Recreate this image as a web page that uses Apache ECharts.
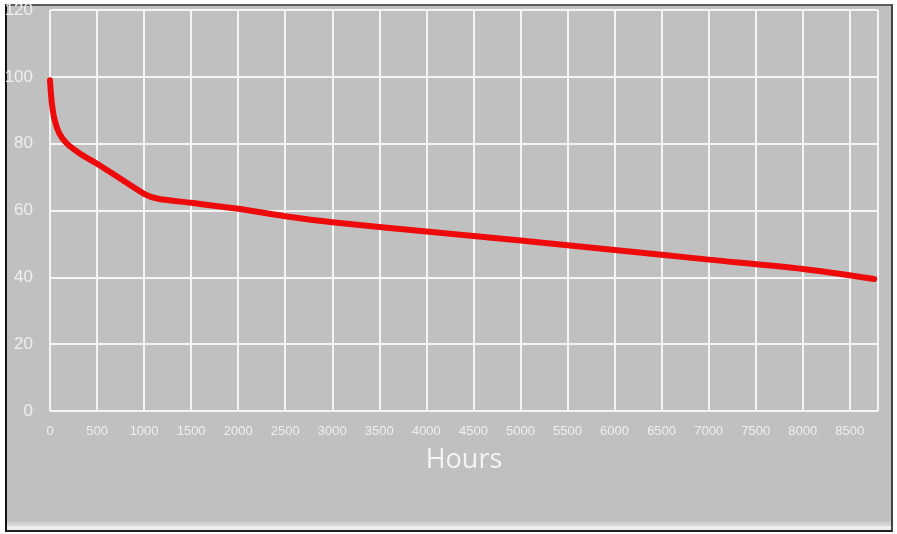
<!DOCTYPE html>
<html>
<head>
<meta charset="utf-8">
<script src="https://cdn.jsdelivr.net/npm/echarts@6/dist/echarts.min.js"></script>
<style>
  html, body { margin: 0; padding: 0; background: #ffffff; }
  #frame {
    position: absolute; left: 5px; top: 4px; width: 884px; height: 524px;
    background: #c0c0c0;
    border-left: 2px solid #111111; border-top: 2px solid #5a5a5a;
    border-right: 2px solid #444444; border-bottom: 2px solid #222222;
  }
  #strip {
    position: absolute; left: 7px; top: 521px; width: 884px; height: 9px;
    background: linear-gradient(#c8c8c8, #d4d4d4 40%, #f2f2f2 70%, #e8e8e8);
  }
  #chart { position: absolute; left: 0; top: 0; width: 897px; height: 534px; }
</style>
</head>
<body>
<div id="frame"></div>
<div id="strip"></div>
<div id="chart"></div>
<script>
const hours = [0, 20, 50, 100, 180, 320, 500, 750, 1000, 1150, 1500, 2000, 2500, 3000, 4000, 5000, 6000, 7000, 8000, 8760];
const values = [99, 92, 87, 83, 80, 77, 74, 69.5, 65, 63.5, 62.3, 60.5, 58.3, 56.5, 53.7, 51, 48.2, 45.3, 42.5, 39.5];
const xName = 'Hours';

const chart = echarts.init(document.getElementById('chart'));
chart.setOption({
  backgroundColor: 'transparent',
  animation: false,
  grid: { left: 50, right: 19, top: 10, bottom: 123 },
  xAxis: {
    type: 'value', min: 0, max: 8800, interval: 500,
    name: xName, nameLocation: 'middle', nameGap: 36,
    nameTextStyle: { color: '#f4f4f4', fontSize: 27, fontFamily: 'Open Sans' },
    axisLine: { show: false }, axisTick: { show: false },
    axisLabel: { color: '#eeeeee', fontSize: 13, fontFamily: 'Liberation Sans', margin: 14, showMaxLabel: false,
      formatter: v => String(v) },
    splitLine: { show: true, lineStyle: { color: '#f4f4f4', width: 2 } }
  },
  yAxis: {
    type: 'value', min: 0, max: 120, interval: 20,
    axisLine: { show: false }, axisTick: { show: false },
    axisLabel: { color: '#eeeeee', fontSize: 17, fontFamily: 'Liberation Sans', margin: 17 },
    splitLine: { show: true, lineStyle: { color: '#f4f4f4', width: 2 } }
  },
  series: [{
    type: 'line',
    data: hours.map((h, i) => [h, values[i]]),
    smooth: 0.3,
    showSymbol: false,
    lineStyle: { color: '#ee0a0a', width: 6, cap: 'round', join: 'round' }
  }]
});
</script>
</body>
</html>
